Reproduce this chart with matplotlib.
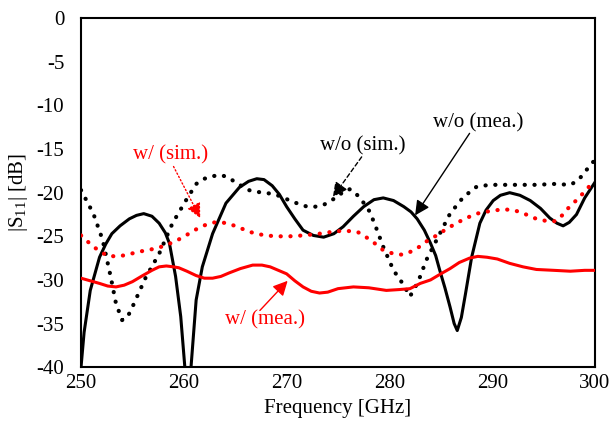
import matplotlib
matplotlib.use("Agg")
import matplotlib.pyplot as plt

plt.rcParams['font.family'] = ['Liberation Serif', 'DejaVu Serif']
plt.rcParams['mathtext.fontset'] = 'custom'
plt.rcParams['mathtext.rm'] = 'Liberation Serif'
plt.rcParams['mathtext.it'] = 'Liberation Serif:italic'
plt.rcParams['axes.unicode_minus'] = False

# w/o (mea.)
f_wo_mea = [250, 250.3, 250.9, 251.8, 252.4, 253.0, 253.8, 254.7, 255.4, 256.1, 256.9,
            257.6, 258.2, 258.6, 259.2, 259.7, 260.1, 260.4, 260.7, 261.2, 261.8, 262.8,
            264.1, 265.4, 266.3, 267.1, 267.8, 268.6, 269.3, 270.0, 270.8, 271.6, 272.6,
            273.6, 274.6, 275.5, 276.5, 277.5, 278.5, 279.4, 280.4, 281.4, 282.1, 282.7,
            283.4, 284.0, 284.5, 284.9, 285.4, 285.9, 286.3, 286.6, 287.0, 287.4, 288.0,
            288.8, 289.4, 290.1, 290.8, 291.7, 292.7, 293.7, 294.7, 295.6, 296.3, 296.9,
            297.5, 298.2, 299.0, 300]
s_wo_mea = [-40, -36, -31.2, -27.4, -25.9, -24.7, -23.8, -23.0, -22.6, -22.4, -22.7,
            -23.5, -24.6, -25.8, -29.6, -34.2, -40, -44, -40, -32.3, -28.5, -24.7,
            -21.2, -19.4, -18.7, -18.4, -18.5, -19.2, -20.2, -21.6, -23.0, -24.3, -24.9,
            -25.1, -24.7, -23.9, -22.7, -21.6, -20.8, -20.6, -20.9, -21.6, -22.2, -23.0,
            -24.3, -25.8, -27.2, -28.9, -30.9, -33.1, -35.0, -35.8, -34.3, -31.6, -27.4,
            -23.5, -22.0, -20.9, -20.3, -20.0, -20.3, -20.9, -21.8, -22.9, -23.5, -23.8,
            -23.4, -22.5, -20.6, -18.8]

# w/o (sim.)
f_wo_sim = [250, 251.2, 252.1, 252.9, 253.4, 254.0, 254.5, 255.0, 256.3, 257.6, 258.9,
            260.2, 261.2, 262.0, 262.8, 263.7, 264.4, 265.0, 266.3, 267.1, 268.4, 269.4,
            270.3, 271.2, 272.0, 272.8, 273.6, 274.9, 275.7, 276.2, 277.1, 278.1, 278.8,
            279.4, 280.4, 281.4, 282.0, 282.8, 283.6, 284.6, 285.9, 287.2, 288.5, 289.8,
            291.1, 292.7, 294.3, 296.0, 297.6, 298.2, 298.8, 299.3, 299.8, 300]
s_wo_sim = [-19.7, -22.4, -25.4, -29.7, -32.7, -34.6, -34.3, -33.1, -29.7, -27.0, -23.5,
            -20.9, -19.0, -18.4, -18.1, -18.0, -18.3, -18.8, -19.7, -19.9, -20.1, -20.4,
            -20.9, -21.3, -21.6, -21.6, -21.4, -20.5, -19.7, -19.6, -20.5, -22.2, -24.3,
            -26.2, -28.9, -30.6, -31.9, -30.2, -27.7, -25.4, -22.4, -20.5, -19.3, -19.1,
            -19.1, -19.1, -19.1, -19.0, -19.1, -18.7, -18.0, -17.2, -16.5, -16.3]

# w/ (sim.)
f_w_sim = [250, 251.2, 252.5, 253.3, 254.1, 255.2, 256.3, 257.3, 258.3, 259.3, 260.2,
           261.2, 262.1, 263.0, 263.7, 264.5, 265.4, 266.2, 267.0, 268.0, 269.0, 270.3,
           271.6, 273.2, 274.9, 276.2, 276.9, 277.5, 278.1, 278.8, 279.4, 280.4, 281.2,
           282.0, 282.7, 283.3, 284.0, 284.6, 285.5, 286.5, 287.5, 288.5, 289.8, 291.1,
           292.0, 292.7, 293.5, 294.3, 295.1, 295.9, 296.3, 296.8, 297.2, 297.9, 298.5,
           299.2, 299.8, 300]
s_w_sim = [-24.9, -26.2, -27.2, -27.3, -27.2, -26.9, -26.6, -26.4, -26.0, -25.5, -24.9,
           -24.2, -23.7, -23.4, -23.4, -23.6, -24.0, -24.4, -24.7, -24.9, -25.0, -25.0,
           -24.9, -24.7, -24.4, -24.4, -24.5, -24.9, -25.4, -26.0, -26.6, -27.0, -27.1,
           -26.8, -26.4, -25.8, -25.3, -24.9, -24.2, -23.5, -22.9, -22.4, -22.1, -21.9,
           -22.0, -22.2, -22.6, -23.0, -23.2, -23.3, -23.2, -22.6, -22.0, -21.2, -20.5,
           -19.6, -18.8, -18.6]

# w/ (mea.)
f_w_mea = [250, 250.9, 251.8, 252.6, 253.4, 254.2, 255.0, 256.0, 256.9, 257.6, 258.3,
           259.0, 259.5, 260.3, 261.2, 262.0, 262.8, 263.6, 264.4, 265.5, 266.7, 267.6,
           268.4, 269.2, 270.0, 270.8, 271.6, 272.4, 273.2, 274.0, 275.0, 276.5, 278.0,
           279.7, 281.0, 282.0, 283.0, 284.0, 285.0, 285.9, 286.8, 287.8, 288.6, 289.5,
           290.5, 291.7, 293.0, 294.3, 296.0, 297.6, 299.0, 300]
s_w_mea = [-29.8, -30.1, -30.4, -30.7, -30.8, -30.6, -30.2, -29.5, -28.9, -28.5, -28.4,
           -28.5, -28.6, -29.0, -29.5, -29.8, -29.8, -29.6, -29.2, -28.7, -28.3, -28.3,
           -28.5, -28.9, -29.3, -30.1, -30.8, -31.3, -31.5, -31.4, -31.0, -30.8, -30.9,
           -31.2, -31.1, -31.0, -30.4, -30.0, -29.3, -28.7, -28.0, -27.5, -27.3, -27.4,
           -27.6, -28.1, -28.5, -28.8, -28.9, -29.0, -28.9, -28.9]

fig = plt.figure(figsize=(6.11, 4.33), dpi=100)
ax = fig.add_axes([0.1326, 0.152, 0.8412, 0.806])

dot = (0, (0.05, 2.3))
ax.plot(f_wo_mea, s_wo_mea, color='black', lw=2.2, zorder=3)
ax.plot(f_wo_sim, s_wo_sim, color='black', lw=3, ls=dot, dash_capstyle='round', zorder=3)
ax.plot(f_w_sim, s_w_sim, color='red', lw=3, ls=dot, dash_capstyle='round', zorder=3)
ax.plot(f_w_mea, s_w_mea, color='red', lw=2.2, zorder=3)

ax.set_xlim(250, 300)
ax.set_ylim(-40, 0)
ax.set_xticks(range(250, 301, 10))
ax.set_yticks(range(-40, 1, 5))
ax.tick_params(length=0, labelsize=15)
ax.tick_params(axis='x', pad=5)
ax.tick_params(axis='y', pad=12)
for sp in ax.spines.values():
    sp.set_linewidth(1.5)

ax.set_xlabel('Frequency [GHz]', fontsize=15, labelpad=4)
ax.set_ylabel('|S$_{11}$| [dB]', fontsize=15, labelpad=5)


def note(xy, xytext, color, ls):
    ax.annotate('', xy=xy, xytext=xytext,
                arrowprops=dict(arrowstyle='-|>', color=color, lw=1, ls=ls,
                                mutation_scale=22, shrinkA=0, shrinkB=0),
                zorder=4)


note((282.5, -22.6), (287.8, -13.2), 'black', '-')
ax.text(288.6, -12.0, 'w/o (mea.)', fontsize=15, ha='center', va='center')

note((274.5, -20.5), (277.3, -15.9), 'black', (0, (3, 2)))
ax.text(277.4, -14.6, 'w/o (sim.)', fontsize=15, ha='center', va='center')

note((261.6, -22.9), (259.0, -17.0), 'red', ':')
ax.text(258.7, -15.7, 'w/ (sim.)', fontsize=15, ha='center', va='center', color='red')

note((270.1, -30.1), (267.4, -33.5), 'red', '-')
ax.text(267.9, -34.6, 'w/ (mea.)', fontsize=15, ha='center', va='center', color='red')

fig.savefig('out.png', dpi=100)
